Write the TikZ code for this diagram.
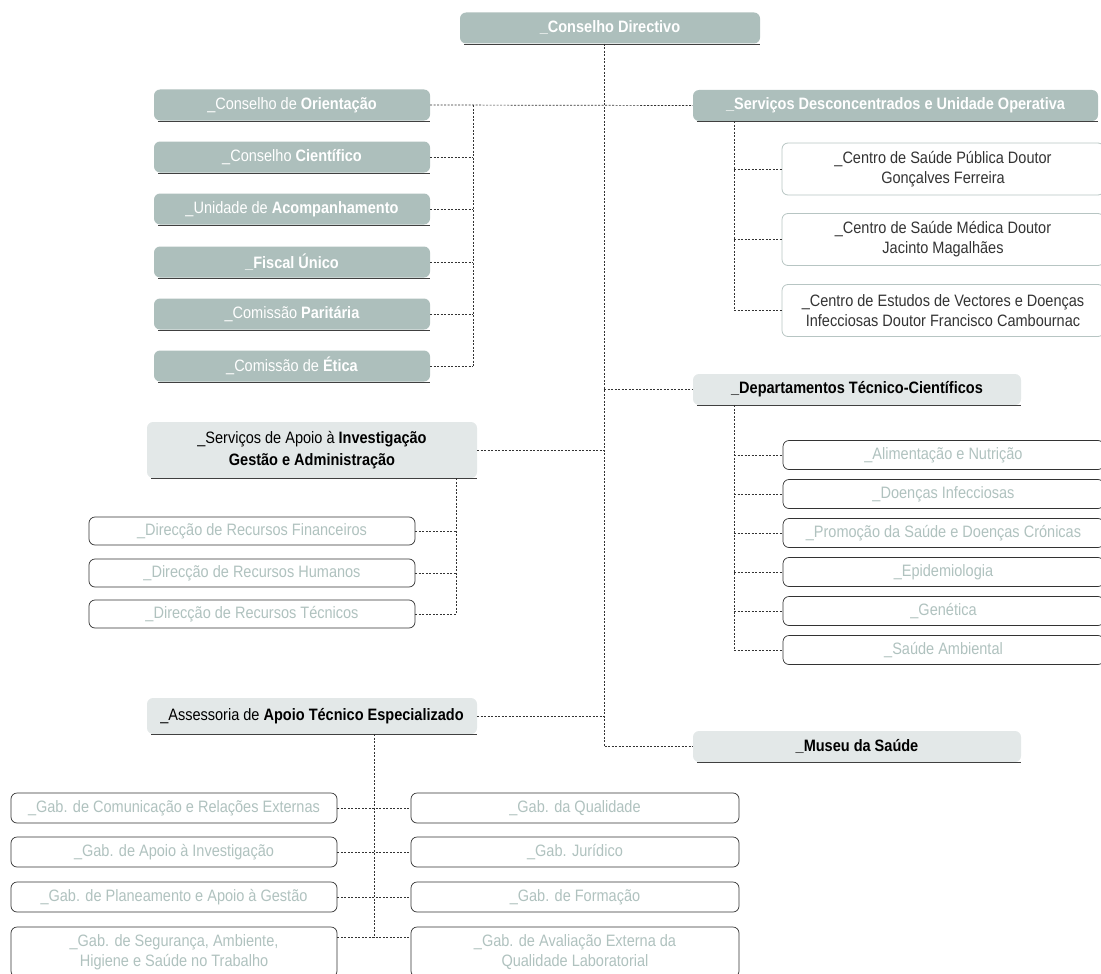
\documentclass[tikz,border=0pt]{standalone}
\usepackage{fontspec}
\setmainfont{Liberation Sans}[FakeStretch=0.88]
\usetikzlibrary{calc}
\definecolor{cDark}{HTML}{ADBFBC}
\definecolor{cLight}{HTML}{E3E8E8}
\definecolor{cTxt}{HTML}{B0C2BF}
\definecolor{cCentro}{HTML}{B7C5C3}
\definecolor{cLine}{HTML}{333333}
\tikzset{
  base/.style={rounded corners=6pt, inner sep=0pt, align=center, font=\fontsize{16.5}{20}\selectfont},
  darkbox/.style={base, fill=cDark, text=white, minimum height=31pt},
  lightbox/.style={base, fill=cLight, text=black},
  centrobox/.style={base, draw=cCentro, line width=0.8pt, fill=white, text=cLine, minimum width=322pt, minimum height=52pt},
  subbox/.style={base, draw=cLine, line width=0.7pt, fill=white, text=cTxt},
  conn/.style={draw=cLine, line width=0.7pt, dash pattern=on 2pt off 1.5pt},
  uline/.style={draw=black!75, line width=1.1pt},
}
\newcommand\ulineof[1]{\draw[uline] ([xshift=4pt,yshift=-0.6pt]#1.south west) -- ([yshift=-0.6pt]#1.south east);}
\begin{document}
\begin{tikzpicture}[x=1pt,y=-1pt]
\useasboundingbox (0,0) rectangle (1101,974);
% coordinates of trunk lines
\coordinate (cx) at (604,0);
\coordinate (vL) at (473,0);
\coordinate (vR) at (734,0);
\coordinate (vS) at (456,0);
\coordinate (vA) at (374,0);

% top
\node[darkbox, minimum width=300pt] (cd) at (610,28) {\bfseries \_Conselho Directivo};

% left council column
\node[darkbox, minimum width=276pt] (or) at (292,105) {\_Conselho de \textbf{Orientação}};
\node[darkbox, minimum width=276pt] (ci) at (292,157) {\_Conselho \textbf{Científico}};
\node[darkbox, minimum width=276pt] (ac) at (292,209) {\_Unidade de \textbf{Acompanhamento}};
\node[darkbox, minimum width=276pt] (fu) at (292,262) {\textbf{\_Fiscal Único}};
\node[darkbox, minimum width=276pt] (cp) at (292,314) {\_Comissão \textbf{Paritária}};
\node[darkbox, minimum width=276pt] (ce) at (292,366) {\_Comissão de \textbf{Ética}};

% serviços desconcentrados
\node[darkbox, minimum width=405pt] (sdu) at (895.5,105.5) {\bfseries \_Serviços Desconcentrados e Unidade Operativa};
\node[centrobox] (c1) at (943,169) {\_Centro de Saúde Pública Doutor\\Gonçalves Ferreira};
\node[centrobox] (c2) at (943,239.5) {\_Centro de Saúde Médica Doutor\\Jacinto Magalhães};
\node[centrobox] (c3) at (943,310.5) {\_Centro de Estudos de Vectores e Doenças\\Infecciosas Doutor Francisco Cambournac};

% departamentos
\node[lightbox, minimum width=328pt, minimum height=31pt] (dtc) at (857,389.5) {\bfseries \_Departamentos Técnico-Científicos};
\node[subbox, minimum width=321pt, minimum height=29pt] (d1) at (943.5,455) {\_Alimentação e Nutrição};
\node[subbox, minimum width=321pt, minimum height=29pt] (d2) at (943.5,494) {\_Doenças Infecciosas};
\node[subbox, minimum width=321pt, minimum height=29pt] (d3) at (943.5,533) {\_Promoção da Saúde e Doenças Crónicas};
\node[subbox, minimum width=321pt, minimum height=29pt] (d4) at (943.5,572) {\_Epidemiologia};
\node[subbox, minimum width=321pt, minimum height=29pt] (d5) at (943.5,611) {\_Genética};
\node[subbox, minimum width=321pt, minimum height=29pt] (d6) at (943.5,650) {\_Saúde Ambiental};

% serviços de apoio
\node[lightbox, minimum width=330pt, minimum height=56pt, font=\fontsize{16.5}{22}\selectfont] (sai) at (312,450) {\_Serviços de Apoio à \textbf{Investigação}\\\textbf{Gestão e Administração}};
\node[subbox, minimum width=326pt, minimum height=28pt] (r1) at (252,531) {\_Direcção de Recursos Financeiros};
\node[subbox, minimum width=326pt, minimum height=28pt] (r2) at (252,573) {\_Direcção de Recursos Humanos};
\node[subbox, minimum width=326pt, minimum height=28pt] (r3) at (252,614) {\_Direcção de Recursos Técnicos};

% assessoria
\node[lightbox, minimum width=330pt, minimum height=36pt] (ate) at (312,716) {\_Assessoria de \textbf{Apoio Técnico Especializado}};
\node[lightbox, minimum width=328pt, minimum height=31pt] (mus) at (857,746.5) {\bfseries \_Museu da Saúde};

\node[subbox, minimum width=326pt, minimum height=30pt] (g1) at (174,808) {\_Gab. de Comunicação e Relações Externas};
\node[subbox, minimum width=326pt, minimum height=30pt] (g2) at (174,852) {\_Gab. de Apoio à Investigação};
\node[subbox, minimum width=326pt, minimum height=30pt] (g3) at (174,897) {\_Gab. de Planeamento e Apoio à Gestão};
\node[subbox, minimum width=326pt, minimum height=50pt] (g4) at (174,952) {\_Gab. de Segurança, Ambiente,\\Higiene e Saúde no Trabalho};
\node[subbox, minimum width=328pt, minimum height=30pt] (h1) at (575,808) {\_Gab. da Qualidade};
\node[subbox, minimum width=328pt, minimum height=30pt] (h2) at (575,852) {\_Gab. Jurídico};
\node[subbox, minimum width=328pt, minimum height=30pt] (h3) at (575,897) {\_Gab. de Formação};
\node[subbox, minimum width=328pt, minimum height=50pt] (h4) at (575,952) {\_Gab. de Avaliação Externa da\\Qualidade Laboratorial};

% underlines
\foreach \n in {cd,or,ci,ac,fu,cp,ce,sdu,dtc,sai,ate,mus} {\ulineof{\n}}

% connectors
\draw[conn] (cd.south -| cx) -- (mus.west -| cx) -- (mus.west);
\draw[conn] (or.east) -- (sdu.west);
\draw[conn] (or.east -| vL) -- (ce.east -| vL);
\foreach \n in {ci,ac,fu,cp,ce} {\draw[conn] (\n.east) -- (\n.east -| vL);}
\draw[conn] (cx |- dtc.west) -- (dtc.west);
\draw[conn] (sai.east) -- (sai.east -| cx);
\draw[conn] (ate.east) -- (ate.east -| cx);

\draw[conn] (sdu.south -| vR) -- (c3.west -| vR);
\foreach \n in {c1,c2,c3} {\draw[conn] (\n.west -| vR) -- (\n.west);}
\draw[conn] (dtc.south -| vR) -- (d6.west -| vR);
\foreach \n in {d1,d2,d3,d4,d5,d6} {\draw[conn] (\n.west -| vR) -- (\n.west);}

\draw[conn] (sai.south -| vS) -- (r3.east -| vS);
\foreach \n in {r1,r2,r3} {\draw[conn] (\n.east) -- (\n.east -| vS);}

\coordinate (g4c) at ($(g4.north east)+(0,11)$);
\coordinate (h4c) at ($(h4.north west)+(0,11)$);
\draw[conn] (ate.south -| vA) -- (g4c -| vA);
\foreach \n/\m in {g1/h1,g2/h2,g3/h3} {\draw[conn] (\n.east) -- (\m.west);}
\draw[conn] (g4c) -- (h4c);
\end{tikzpicture}
\end{document}
